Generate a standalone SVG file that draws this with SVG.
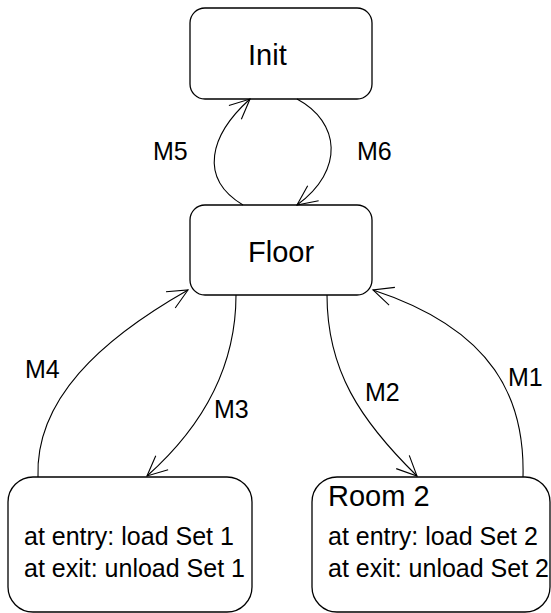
<svg xmlns="http://www.w3.org/2000/svg" width="551" height="613" viewBox="0 0 551 613">
<style>
.box{fill:#fff;stroke:#000;stroke-width:1.3}
.big{font-family:"Liberation Sans",Arial,sans-serif;font-size:29px;fill:#000}
.txt{font-family:"Liberation Sans",Arial,sans-serif;font-size:25px;fill:#000}
.edge{fill:none;stroke:#000;stroke-width:1.1;marker-end:url(#arr)}
</style>
<defs>
<marker id="arr" markerUnits="userSpaceOnUse" markerWidth="30" markerHeight="30" viewBox="-25 -15 30 30" refX="0" refY="0" orient="auto">
<path d="M-20,-9.3 L0,0 L-20,9.3" fill="none" stroke="#000" stroke-width="1.1"/>
</marker>
</defs>
<g id="init"><rect class="box" x="190" y="8" width="182" height="91" rx="15"/><text class="big" x="248" y="65">Init</text></g>
<g id="floor"><rect class="box" x="190" y="205" width="182" height="90" rx="15"/><text class="big" x="248" y="262">Floor</text></g>
<g id="room1"><rect class="box" x="8" y="477" width="244" height="135" rx="25"/><text class="txt" x="24" y="545">at entry: load Set 1</text><text class="txt" x="24" y="577">at exit: unload Set 1</text></g>
<g id="room2"><rect class="box" x="312" y="477" width="238" height="135" rx="25"/><text class="big" x="328" y="506">Room 2</text><text class="txt" x="328" y="545">at entry: load Set 2</text><text class="txt" x="328" y="577">at exit: unload Set 2</text></g>
<g id="connectors">
<path class="edge" d="M243,205 C198,178 210,135 250,99"/>
<path class="edge" d="M297,99 C340,122 345,170 297,205"/>
<path class="edge" d="M38,477 C35,400 100,340 188,290"/>
<path class="edge" d="M236,295 C236,360 210,420 147,476"/>
<path class="edge" d="M327,295 C327,370 360,420 417,476"/>
<path class="edge" d="M523,477 C525,400 495,330 373,290"/>
<text class="txt" x="153" y="160">M5</text>
<text class="txt" x="357" y="160">M6</text>
<text class="txt" x="25" y="378">M4</text>
<text class="txt" x="214" y="418">M3</text>
<text class="txt" x="365" y="401">M2</text>
<text class="txt" x="508" y="386">M1</text>
</g>
</svg>
